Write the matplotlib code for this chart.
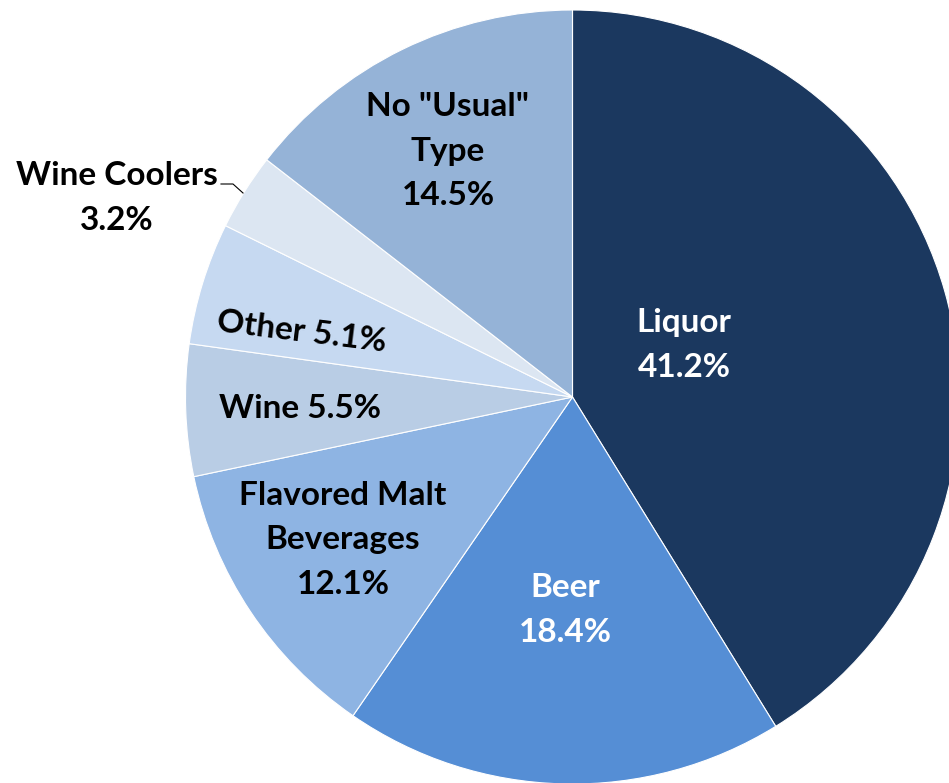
import matplotlib
matplotlib.use("Agg")
import matplotlib.pyplot as plt

categories = ["Liquor", "Beer", "Flavored Malt Beverages", "Wine", "Other", "Wine Coolers", 'No "Usual" Type']
values = [41.2, 18.4, 12.1, 5.5, 5.1, 3.2, 14.5]
colors = ["#1B385F", "#558ED5", "#8EB4E3", "#B9CDE5", "#C6D9F1", "#DCE6F2", "#95B3D7"]
label_texts = ["Liquor\n41.2%", "Beer\n18.4%", "Flavored Malt\nBeverages\n12.1%", "Wine 5.5%",
               "Other 5.1%", "Wine Coolers\n3.2%", 'No "Usual"\nType\n14.5%']

W, H = 949, 783
fig = plt.figure(figsize=(W / 100, H / 100), dpi=100)
ax = fig.add_axes([0, 0, 1, 1])
cx, cy, R = 572.5, H - 397, 387
ax.pie(values, colors=colors, startangle=90, counterclock=False, center=(cx, cy), radius=R,
       wedgeprops=dict(edgecolor="white", linewidth=0.8), frame=True)
ax.set_xlim(0, W)
ax.set_ylim(0, H)
ax.set_aspect("equal")
ax.axis("off")

font = dict(family=["Lato", "DejaVu Sans"], fontweight="bold", fontsize=24)
pos = [(684, 345, "white", 0), (565, 610, "white", 0), (343, 540, "black", 0), (300, 409, "black", 0),
       (302, 332, "black", -7), (117, 198, "black", 0), (448, 151, "black", 0)]
for txt, (x, y, c, rot) in zip(label_texts, pos):
    ax.text(x, H - y, txt, ha="center", va="center", color=c, rotation=rot,
            linespacing=1.65, **font)

ax.plot([221, 233, 243], [H - 184, H - 184, H - 193], color="black", lw=0.8)
fig.savefig("out.png", dpi=100)
